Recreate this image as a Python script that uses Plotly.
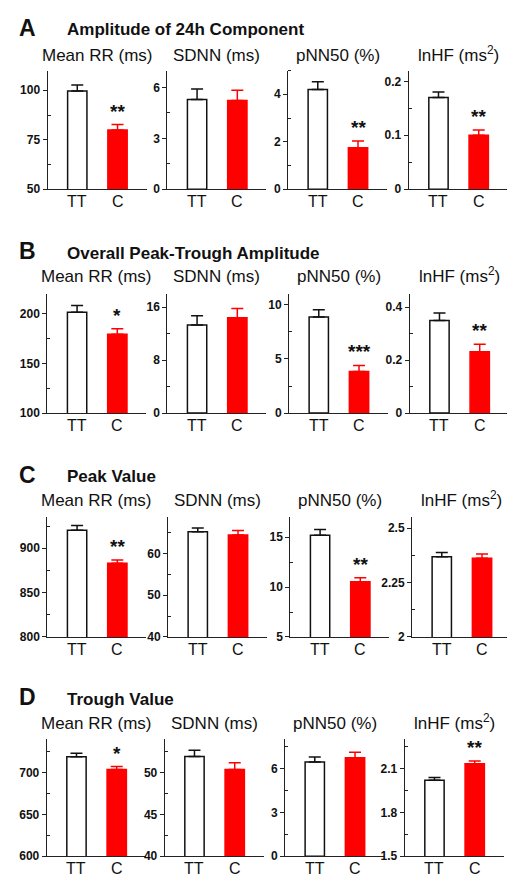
import plotly.graph_objects as go

W, H = 515, 884

categories = ["TT", "C"]
row_letters = ["A", "B", "C", "D"]
row_titles = ["Amplitude of 24h Component", "Overall Peak-Trough Amplitude", "Peak Value", "Trough Value"]
measures = ["Mean RR (ms)", "SDNN (ms)", "pNN50 (%)", "lnHF (ms<sup>2</sup>)"]

# Means and SEM per row (A..D), per measure (Mean RR, SDNN, pNN50, lnHF)
tt_mean = [
    [99.7, 5.29, 4.20, 0.170],
    [201.7, 13.3, 8.87, 0.350],
    [920.3, 65.2, 15.2, 2.369],
    [719.3, 51.97, 6.45, 2.021],
]
tt_err = [
    [3.0, 0.62, 0.33, 0.010],
    [6.7, 1.4, 0.68, 0.028],
    [5.3, 0.95, 0.57, 0.019],
    [4.3, 0.73, 0.34, 0.018],
]
c_mean = [
    [80.0, 5.23, 1.75, 0.100],
    [179.5, 14.4, 3.85, 0.232],
    [883.0, 64.45, 10.53, 2.362],
    [703.9, 50.4, 6.74, 2.134],
]
c_err = [
    [2.7, 0.61, 0.28, 0.010],
    [5.6, 1.4, 0.55, 0.028],
    [3.7, 1.1, 0.40, 0.019],
    [3.6, 0.8, 0.38, 0.018],
]
signif = [
    ["**", "", "**", "**"],
    ["*", "", "***", "**"],
    ["**", "", "**", ""],
    ["*", "", "", "**"],
]
y_ranges = [
    [[50, 110], [0, 7], [0, 5], [0, 0.22]],
    [[100, 220], [0, 18], [0, 11], [0, 0.45]],
    [[800, 935], [40, 68.7], [5, 17], [2, 2.55]],
    [[600, 740], [40, 54], [0, 8], [1.5, 2.3]],
]
y_ticks = [
    [[50, 75, 100], [0, 3, 6], [0, 2, 4], [0, 0.1, 0.2]],
    [[100, 150, 200], [0, 8, 16], [0, 5, 10], [0, 0.2, 0.4]],
    [[800, 850, 900], [40, 50, 60], [5, 10, 15], [2, 2.25, 2.5]],
    [[600, 650, 700], [40, 45, 50], [0, 3, 6], [1.5, 1.8, 2.1]],
]
y_ticktext = [
    [["50", "75", "100"], ["0", "3", "6"], ["0", "2", "4"], ["0", "0.1", "0.2"]],
    [["100", "150", "200"], ["0", "8", "16"], ["0", "5", "10"], ["0", "0.2", "0.4"]],
    [["800", "850", "900"], ["40", "50", "60"], ["5", "10", "15"], ["2", "2.25", "2.5"]],
    [["600", "650", "700"], ["40", "45", "50"], ["0", "3", "6"], ["1.5", "1.8", "2.1"]],
]

# ---- layout geometry (pixels) ----
panel_left = [
    [39.5, 159.3, 280.0, 400.7],
    [39.3, 159.3, 281.0, 401.7],
    [39.3, 160.0, 282.3, 404.0],
    [38.7, 156.7, 277.0, 396.7],
]
panel_w = 99
row_top = [63, 288.3, 513.3, 737.3]
row_bot = [182.7, 408.3, 634, 855]
letter_y = [20, 245, 471, 695]
title_y = [22, 247, 472, 697]
sub_y = [48.3, 271.7, 496.7, 721.7]
cat_gap = 12.5

FONT = "Liberation Sans, Arial, Helvetica, sans-serif"
RED = "#ff0000"
AX = "#222222"

def px(x):
    return x / W

def py(y):
    return 1 - y / H

def minor_vals(ticks, rng):
    step = ticks[1] - ticks[0]
    vals = []
    t = ticks[0] - step / 2
    while t <= rng[1] + 1e-9:
        if t >= rng[0] - 1e-9:
            vals.append(round(t, 6))
        t += step
    return vals

fig = go.Figure()
annotations = []
layout = {}

n = 0
for r in range(4):
    for c in range(4):
        n += 1
        xa = "x" if n == 1 else f"x{n}"
        ya = "y" if n == 1 else f"y{n}"
        xkey = "xaxis" if n == 1 else f"xaxis{n}"
        ykey = "yaxis" if n == 1 else f"yaxis{n}"
        left = panel_left[r][c]
        layout[xkey] = dict(
            domain=[px(left), px(left + panel_w)], anchor=ya,
            type="category", categoryorder="array", categoryarray=categories,
            range=[-0.74, 1.72], showline=True, linecolor=AX, linewidth=1,
            ticks="", showgrid=False, zeroline=False, showticklabels=False,
            fixedrange=True,
        )
        layout[ykey] = dict(
            domain=[py(row_bot[r]), py(row_top[r])], anchor=xa,
            range=y_ranges[r][c], showline=True, linecolor=AX, linewidth=1,
            ticks="outside", ticklen=4, tickwidth=1, tickcolor=AX,
            tickmode="array", tickvals=y_ticks[r][c],
            ticktext=[f"<b>{t}</b>" for t in y_ticktext[r][c]],
            tickfont=dict(family=FONT, size=12, color="#111"),
            minor=dict(tickmode="array", tickvals=minor_vals(y_ticks[r][c], y_ranges[r][c]),
                       ticks="inside", ticklen=3, tickwidth=1, tickcolor=AX, showgrid=False),
            showgrid=False, zeroline=False, fixedrange=True,
        )
        fig.add_trace(go.Bar(
            x=[categories[0]], y=[tt_mean[r][c]], xaxis=xa, yaxis=ya, width=0.48,
            marker=dict(color="white", line=dict(color="#111", width=1.5)),
            error_y=dict(type="data", symmetric=False, array=[tt_err[r][c]], arrayminus=[0],
                         color="#111", thickness=1.5, width=6),
            showlegend=False, hoverinfo="skip",
        ))
        fig.add_trace(go.Bar(
            x=[categories[1]], y=[c_mean[r][c]], xaxis=xa, yaxis=ya, width=0.48,
            marker=dict(color=RED, line=dict(color=RED, width=1.5)),
            error_y=dict(type="data", symmetric=False, array=[c_err[r][c]], arrayminus=[0],
                         color=RED, thickness=1.5, width=6),
            showlegend=False, hoverinfo="skip",
        ))
        for cat in categories:
            annotations.append(dict(
                x=cat, y=py(row_bot[r] + cat_gap), xref=xa, yref="paper",
                text=cat, showarrow=False, xanchor="center", yanchor="middle",
                font=dict(family=FONT, size=16, color="#111"),
            ))
        if signif[r][c]:
            annotations.append(dict(
                x=categories[1], y=c_mean[r][c] + c_err[r][c], xref=xa, yref=ya,
                text=f"<b>{signif[r][c]}</b>", showarrow=False, yanchor="bottom", xanchor="center",
                yshift=1, font=dict(family=FONT, size=19, color="#111"),
            ))
        annotations.append(dict(
            x=px(left + panel_w / 2), y=py(sub_y[r] + 11), xref="paper", yref="paper",
            text=measures[c], showarrow=False, xanchor="center", yanchor="bottom",
            font=dict(family=FONT, size=17, color="#111"),
        ))
    annotations.append(dict(
        x=px(9), y=py(letter_y[r]), xref="paper", yref="paper", text=f"<b>{row_letters[r]}</b>",
        showarrow=False, xanchor="left", yanchor="middle",
        font=dict(family=FONT, size=23, color="#111"),
    ))
    annotations.append(dict(
        x=px(57), y=py(title_y[r]), xref="paper", yref="paper", text=f"<b>{row_titles[r]}</b>",
        showarrow=False, xanchor="left", yanchor="middle",
        font=dict(family=FONT, size=17, color="#111"),
    ))

fig.update_layout(
    width=W, height=H, margin=dict(l=0, r=0, t=0, b=0),
    paper_bgcolor="white", plot_bgcolor="white",
    annotations=annotations, barmode="overlay", showlegend=False,
    font=dict(family=FONT),
    **layout,
)
fig.write_html("out.html", config={"displayModeBar": False})
